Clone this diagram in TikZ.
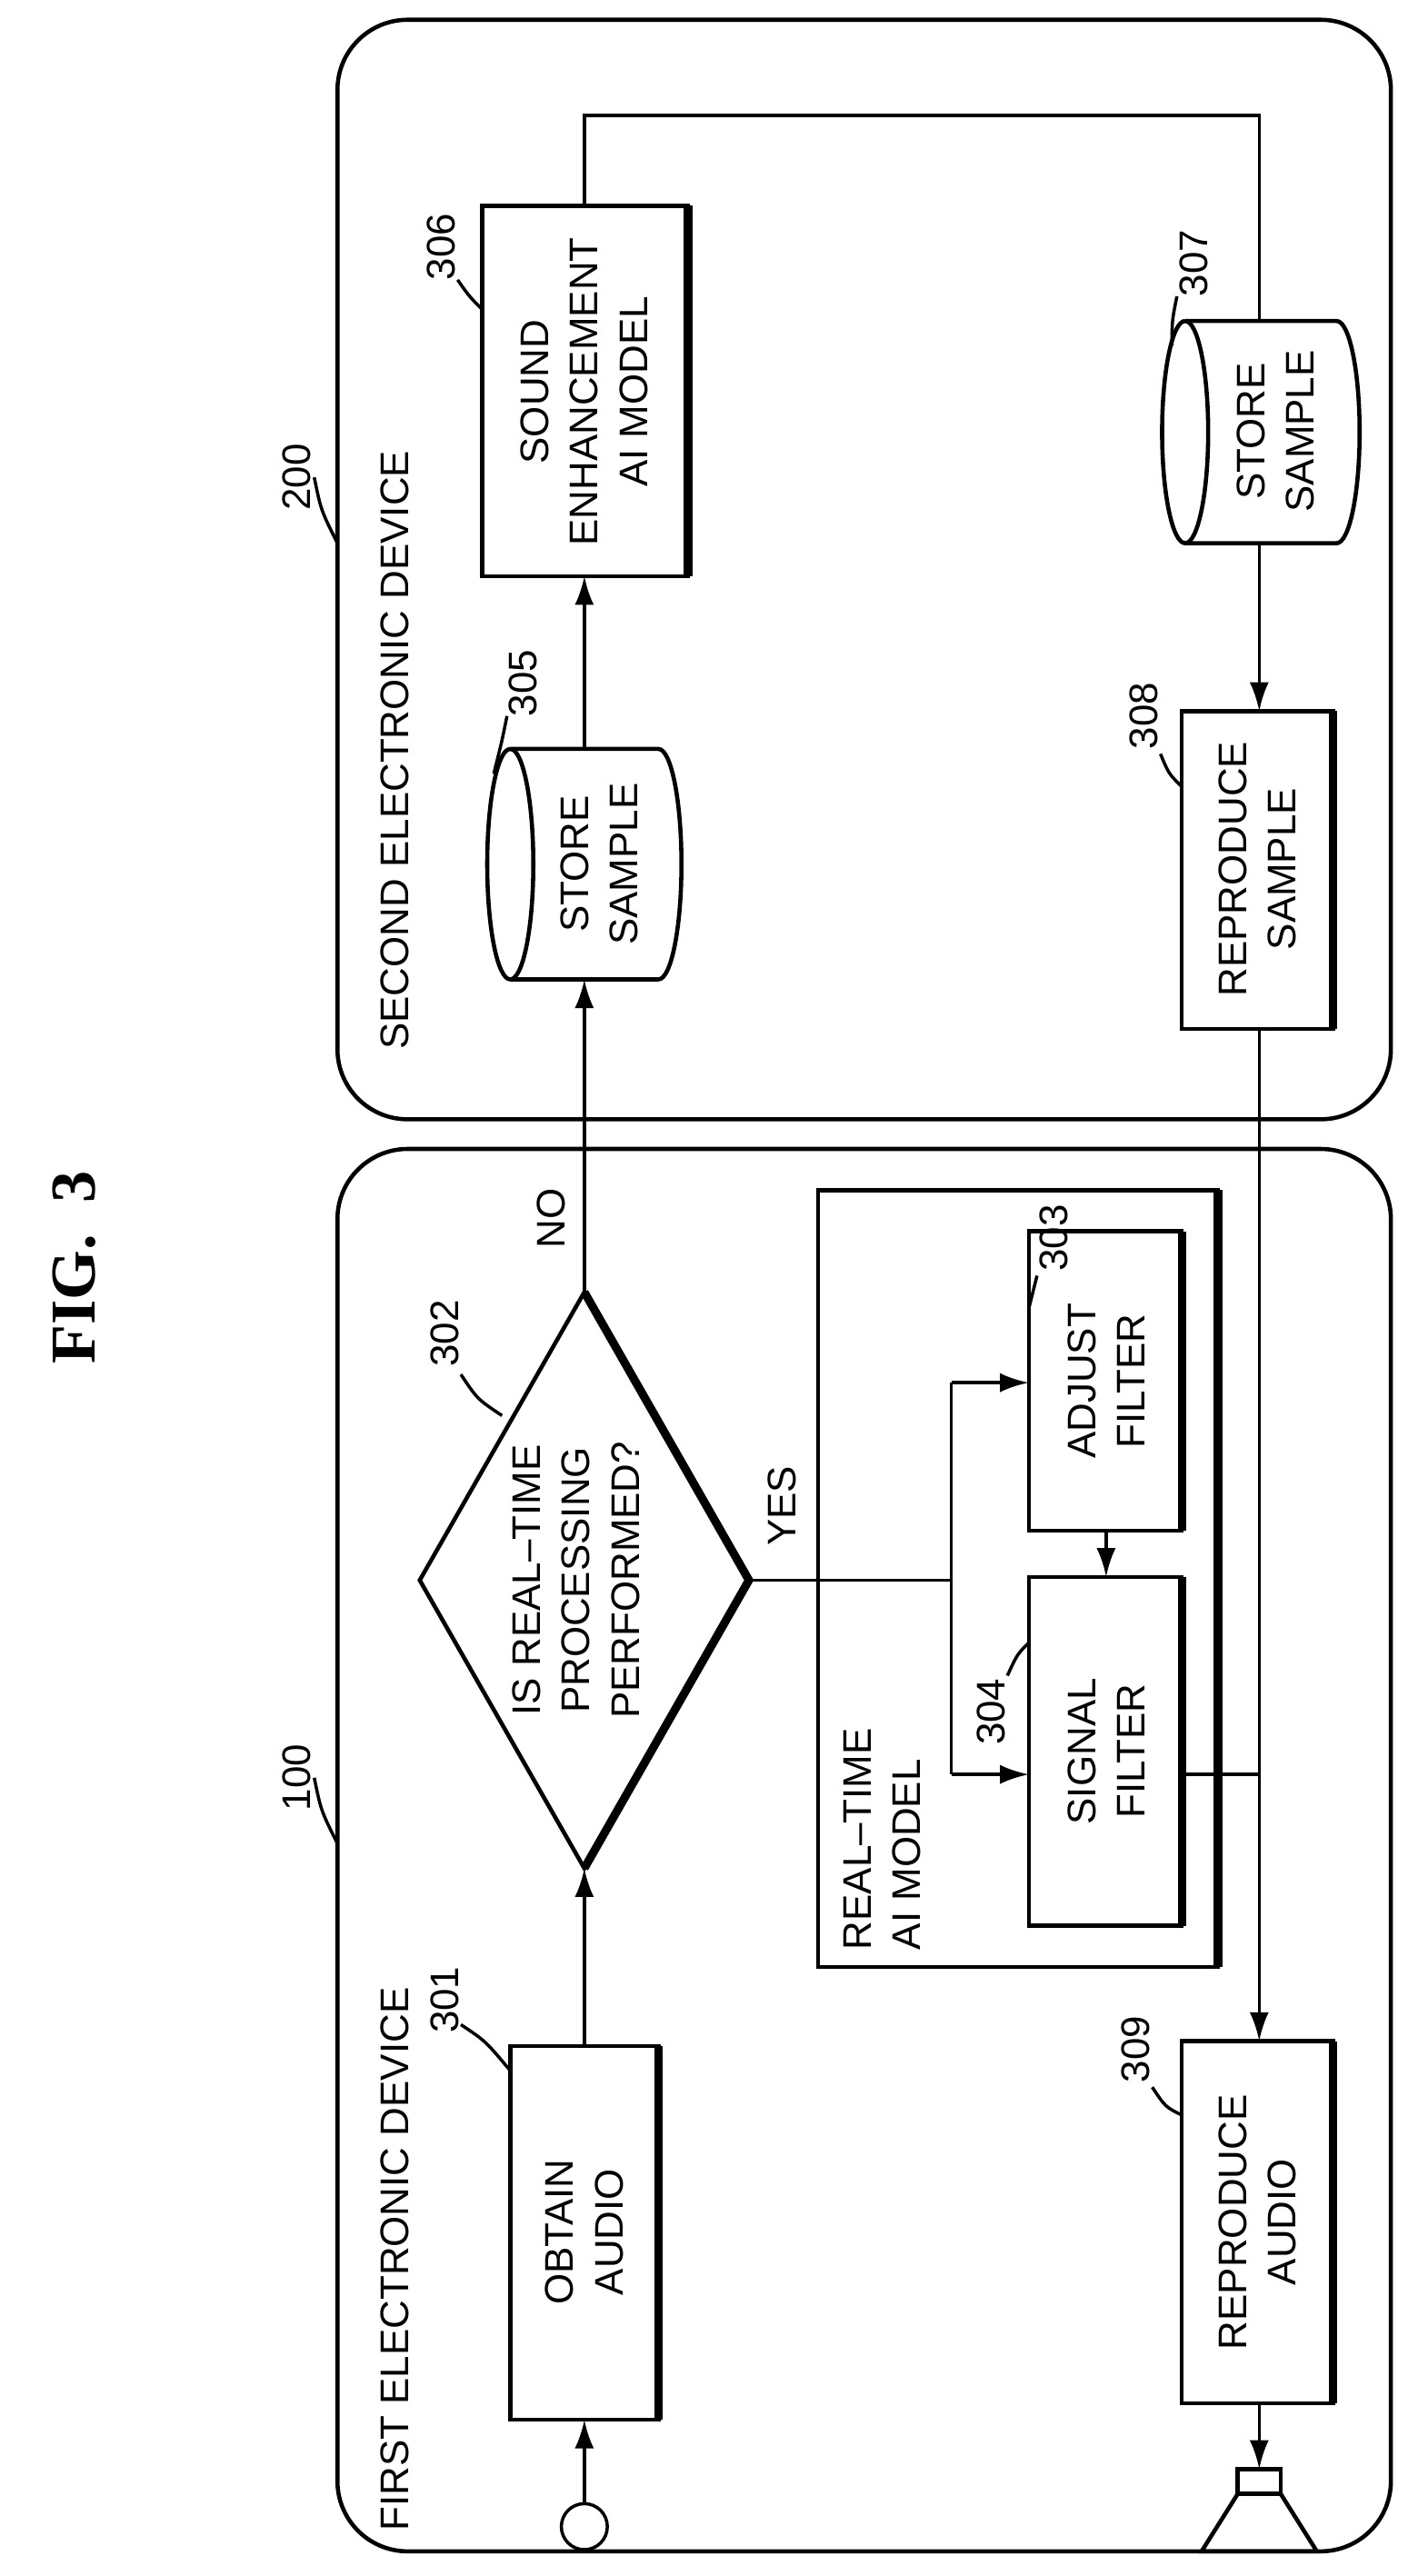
\documentclass[tikz,border=0pt]{standalone}
\usepackage{fontspec}
\setmainfont{Liberation Sans}
\newfontfamily\figfont{Liberation Serif}
\usetikzlibrary{arrows.meta,shapes.geometric}
\begin{document}
\begin{tikzpicture}[x=0.018117cm,y=-0.018117cm,
  every node/.style={font=\fontsize{12.5}{15.5}\selectfont},
  txt/.style={rotate=90,align=center,inner sep=0pt},
  ln/.style={line width=1pt},
  box/.style={line width=1.3pt},
  arr/.style={ln,-{Latex[length=9pt,width=6pt]}},
  lbl/.style={rotate=90,inner sep=1pt}]
\useasboundingbox (0,0) rectangle (855,1565);
\node[rotate=90,font=\figfont\bfseries\fontsize{20}{24}\selectfont] (fig) at (45,770) {FIG.\ \ 3};
% device frames
\draw[box,rounded corners=22pt] (205,698) rectangle (845,1550);
\draw[box,rounded corners=22pt] (205,12) rectangle (845,680);
\node[lbl,anchor=west] (l1) at (240,1540) {FIRST ELECTRONIC DEVICE};
\node[lbl,anchor=west] (l2) at (240,640) {SECOND ELECTRONIC DEVICE};
\node[lbl] (n100) at (180,1080) {100};
\draw[ln] (n100.south) ++(0,0) .. controls (195,1100) .. (205,1120);
\node[lbl] (n200) at (180,290) {200};
\draw[ln] (n200.south) .. controls (195,310) .. (205,330);
% mic
\node[draw,ln,circle,minimum size=24pt*0.6,inner sep=0pt] (mic) at (355,1535) {};
% 301
\draw[box] (310,1243) rectangle (400,1470); \draw[line width=2.6pt] (400,1243)--(400,1470);
\node[txt] (b301) at (355,1356) {OBTAIN\\AUDIO};
\coordinate (b301t) at (355,1243); \coordinate (b301b) at (355,1470);
\draw[arr] (mic) -- (b301b);
\node[lbl] (n301) at (270,1215) {301};
\draw[ln] (280,1230) .. controls (295,1240) .. (310,1258);
% diamond
\draw[box] (355,1135) -- (255,960) -- (355,785) -- (455,960) -- cycle;
\draw[line width=2.6pt] (355,785) -- (455,960) -- (355,1135);
\coordinate (dt) at (355,785); \coordinate (db) at (355,1135); \coordinate (dr) at (455,960);
\node[txt] (t302) at (350,960) {IS REAL–TIME\\PROCESSING\\PERFORMED?};
\node[lbl] (n302) at (270,810) {302};
\draw[ln] (280,835) .. controls (290,850) .. (305,860);
\draw[arr] (b301t) -- (db);
% 305 cylinder
\draw[box] (310,455) -- (400,455) arc[start angle=-90,end angle=90,x radius=14,y radius=70] -- (310,595) arc[start angle=90,end angle=270,x radius=14,y radius=70];
\draw[box] (310,455) arc[start angle=-90,end angle=90,x radius=14,y radius=70];
\node[txt] (s305) at (364,525) {STORE\\SAMPLE};
\coordinate (c305b) at (355,595); \coordinate (c305t) at (355,455);
\node[lbl] (n305) at (318,415) {305};
\draw[ln] (308,435) .. controls (305,450) .. (300,470);
\draw[arr] (dt) -- (c305b);
\node[lbl] (no) at (335,740) {NO};
% 306
\draw[box] (293,125) rectangle (418,350); \draw[line width=2.6pt] (418,125)--(418,350);
\node[txt] (b306) at (355,238) {SOUND\\ENHANCEMENT\\AI MODEL};
\coordinate (b306t) at (355,125); \coordinate (b306b) at (355,350);
\node[lbl] (n306) at (268,150) {306};
\draw[ln] (278,170) .. controls (285,180) .. (293,188);
\draw[arr] (c305t) -- (b306b);
% 307 cylinder
\draw[box] (720,195) -- (812,195) arc[start angle=-90,end angle=90,x radius=14,y radius=67.5] -- (720,330) arc[start angle=90,end angle=270,x radius=14,y radius=67.5];
\draw[box] (720,195) arc[start angle=-90,end angle=90,x radius=14,y radius=67.5];
\node[txt] (s307) at (775,262) {STORE\\SAMPLE};
\coordinate (c307t) at (765,195); \coordinate (c307b) at (765,330);
\node[lbl] (n307) at (725,160) {307};
\draw[ln] (715,180) .. controls (712,195) .. (712,210);
\draw[ln] (b306t) -- (355,70) -- (765,70) -- (c307t);
% 308
\draw[box] (718,432) rectangle (810,625); \draw[line width=2.6pt] (810,432)--(810,625);
\node[txt] (b308) at (764,528) {REPRODUCE\\SAMPLE};
\coordinate (b308t) at (765,432); \coordinate (b308b) at (765,625);
\node[lbl] (n308) at (695,435) {308};
\draw[ln] (705,458) .. controls (710,470) .. (718,478);
\draw[arr] (c307b) -- (b308t);
% real-time AI model
\draw[box] (497,723) rectangle (740,1195);
\draw[line width=2.6pt] (740,723) -- (740,1195);
\node[txt,anchor=north west,align=left] (rt) at (512,1185) {REAL–TIME\\AI MODEL};
% 303
\draw[box] (625,748) rectangle (718,930); \draw[line width=2.6pt] (718,748)--(718,930);
\node[txt] (b303) at (672,839) {ADJUST\\FILTER};
\coordinate (b303l) at (625,840); \coordinate (b303b) at (672,930);
\node[lbl] (n303) at (640,752) {303};
\draw[ln] (630,775) .. controls (628,785) .. (625,795);
% 304
\draw[box] (625,958) rectangle (718,1170); \draw[line width=2.6pt] (718,958)--(718,1170);
\node[txt] (b304) at (672,1064) {SIGNAL\\FILTER};
\coordinate (b304l) at (625,1078); \coordinate (b304t) at (672,958); \coordinate (b304r) at (718,1078);
\node[lbl] (n304) at (602,1040) {304};
\draw[ln] (612,1018) .. controls (618,1005) .. (625,998);
\draw[ln] (dr) -- (578,960);
\coordinate (ytop) at (578,840); \coordinate (ybot) at (578,1078);
\draw[ln] (ytop) -- (ybot);
\draw[arr] (ytop) -- (b303l);
\draw[arr] (ybot) -- (b304l);
\node[lbl] (yes) at (475,915) {YES};
\draw[arr] (b303b) -- (b304t);
\draw[ln] (b304r) -- (765,1078);
% 309
\draw[box] (718,1240) rectangle (810,1460); \draw[line width=2.6pt] (810,1240)--(810,1460);
\node[txt] (b309) at (764,1350) {REPRODUCE\\AUDIO};
\coordinate (b309t) at (765,1240); \coordinate (b309b) at (765,1460);
\node[lbl] (n309) at (690,1245) {309};
\draw[ln] (700,1268) .. controls (708,1280) .. (718,1285);
\draw[arr] (b308b) -- (b309t);
% speaker
\coordinate (spk) at (765,1500);
\draw[box] (752,1500) rectangle (778,1515);
\draw[box] (752,1515) -- (730,1550) -- (800,1550) -- (778,1515);
\draw[arr] (b309b) -- (spk);
\end{tikzpicture}
\end{document}
